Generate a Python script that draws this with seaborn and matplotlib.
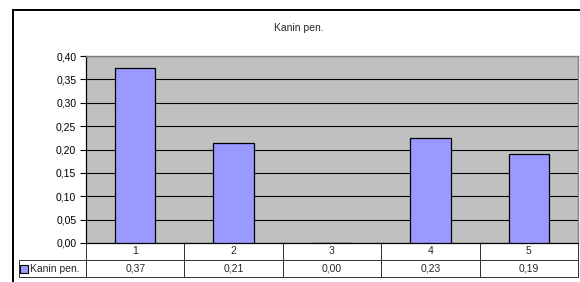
import numpy as np
import pandas as pd
import matplotlib
matplotlib.use("Agg")
import matplotlib.pyplot as plt
from matplotlib.patches import Patch, Rectangle
from matplotlib.ticker import FuncFormatter
import seaborn as sns

# data
categories = ["1", "2", "3", "4", "5"]
values = [0.374, 0.213, 0.0, 0.225, 0.190]
table_values = ["0,37", "0,21", "0,00", "0,23", "0,19"]
series_name = "Kanin pen."
y_ticks = [0.0, 0.05, 0.10, 0.15, 0.20, 0.25, 0.30, 0.35, 0.40]

sns.set_style("white")
plt.rcParams["font.family"] = ["Liberation Sans", "DejaVu Sans"]

W, H = 580, 282
fig = plt.figure(figsize=(W / 100, H / 100), dpi=100)
fig.patch.set_facecolor("white")

# plot area in pixel terms
x0, x1, y_top, y_bot = 86, 578, 56, 243
ax = fig.add_axes([x0 / W, 1 - y_bot / H, (x1 - x0) / W, (y_bot - y_top) / H])
ax.set_facecolor("#C0C0C0")

df = pd.DataFrame({"cat": categories, "val": values})
sns.barplot(data=df, x="cat", y="val", color="#9999FF", saturation=1,
            edgecolor="black", linewidth=0.9, width=0.41, ax=ax, zorder=3)

ax.set_xlim(-0.5, len(categories) - 0.5)
ax.set_ylim(0, 0.40)
ax.set_yticks(y_ticks)
ax.yaxis.set_major_formatter(FuncFormatter(lambda v, p: f"{v:.2f}".replace(".", ",")))
ax.tick_params(axis="y", labelsize=7.5, length=4, width=0.8, pad=3,
               left=True, direction="out", colors="black")
ax.set_xticks([])
ax.set_xlabel("")
ax.set_ylabel("")
ax.yaxis.grid(True, color="black", linewidth=0.8, zorder=1)
ax.set_axisbelow(True)

for side in ["top", "right"]:
    ax.spines[side].set_color("#808080")
    ax.spines[side].set_linewidth(1.0)
for side in ["left", "bottom"]:
    ax.spines[side].set_color("black")
    ax.spines[side].set_linewidth(0.9)

# data table under the chart
lab_w = (x0 - 19) / (x1 - x0)
col_w = 1 / len(categories)
tab_h = (277 - y_bot) / (y_bot - y_top)
tbl = ax.table(cellText=[[""] + categories, [""] + table_values],
               colWidths=[lab_w] + [col_w] * len(categories),
               cellLoc="center",
               bbox=[-lab_w, -tab_h, 1 + lab_w, tab_h])
tbl.auto_set_font_size(False)
tbl.set_fontsize(7.5)
for (r, c), cell in tbl.get_celld().items():
    cell.set_edgecolor("#303030")
    cell.set_linewidth(0.7)
    cell.set_facecolor("white")
tbl[0, 0].visible_edges = ""

# legend key inside the first table column
ax.legend(handles=[Patch(facecolor="#9999FF", edgecolor="black", linewidth=0.8)],
          labels=[series_name], loc="center left",
          bbox_to_anchor=((20 - x0) / (x1 - x0), -(269.5 - y_bot) / (y_bot - y_top)),
          frameon=False, fontsize=7.5, handlelength=0.75, handleheight=0.75,
          handletextpad=0.2, borderpad=0, borderaxespad=0)

fig.text(299 / W, 1 - 28 / H, series_name, ha="center", va="center", fontsize=7.5)

# outer chart frame (cropped at right and bottom)
fig.add_artist(Rectangle((12.5 / W, -0.2), 1.0, 1.2 - 10.5 / H, transform=fig.transFigure,
                         fill=False, edgecolor="black", linewidth=1.4))

fig.savefig("out.png", dpi=100)
